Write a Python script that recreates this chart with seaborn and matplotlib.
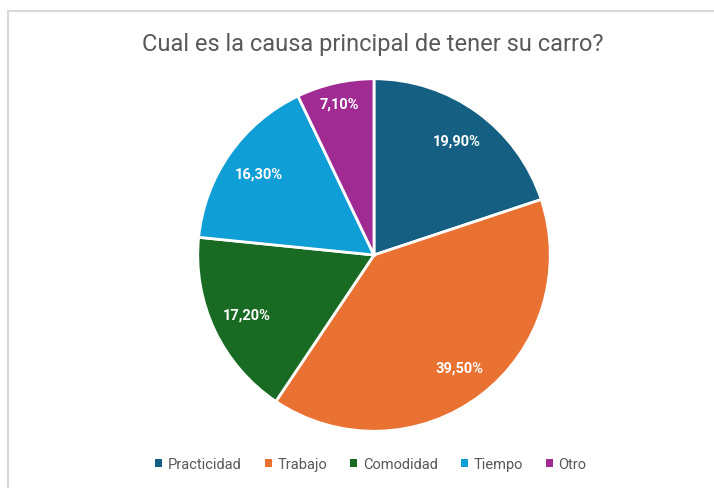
import matplotlib
matplotlib.use("Agg")
import matplotlib.pyplot as plt
import seaborn as sns
from matplotlib.lines import Line2D
from matplotlib.patches import Patch

# Datos de la encuesta
categorias = ["Practicidad", "Trabajo", "Comodidad", "Tiempo", "Otro"]
porcentajes = [19.9, 39.5, 17.2, 16.3, 7.1]
colores = ["#156082", "#E97132", "#196B24", "#0F9ED5", "#A02B93"]

sns.set_theme(style="white")
plt.rcParams["font.family"] = ["Roboto", "DejaVu Sans"]

fig = plt.figure(figsize=(7.14, 4.89), dpi=100)
ax = fig.add_axes([196 / 714, 55 / 489, 356 / 714, 356 / 489])

wedges, textos, pcts = ax.pie(
    porcentajes,
    colors=colores,
    startangle=90,
    counterclock=False,
    autopct=lambda p: f"{p:.2f}%".replace(".", ","),
    pctdistance=0.8,
    wedgeprops=dict(edgecolor="white", linewidth=2),
    textprops=dict(color="white", fontsize=10.5, fontweight="bold"),
)
# la etiqueta de "Otro" va un poco mas afuera, como en Excel
x, y = pcts[-1].get_position()
pcts[-1].set_position((x * 1.1, y * 1.1))

ax.set_xlim(-1.01, 1.01)
ax.set_ylim(-1.01, 1.01)
ax.set_aspect("equal")
ax.axis("off")

fig.text(373 / 714, 1 - 44 / 489, "Cual es la causa principal de tener su carro?",
         ha="center", va="center", fontsize=17, color="#595959")

handles = [Patch(facecolor=c, edgecolor="none", label=l) for c, l in zip(colores, categorias)]
fig.legend(handles=handles, loc="center", bbox_to_anchor=(371 / 714, 1 - 465 / 489),
           ncol=5, frameon=False, fontsize=10.5, labelcolor="#595959",
           handlelength=0.45, handleheight=0.45, handletextpad=0.4, columnspacing=1.6)

# marco del grafico
fig.add_artist(Line2D([7.5 / 714, 1], [1 - 11.5 / 489, 1 - 11.5 / 489], color="#d9d9d9", lw=1.5))
fig.add_artist(Line2D([7.5 / 714, 7.5 / 714], [0, 1 - 11.5 / 489], color="#d9d9d9", lw=1.5))

fig.savefig("out.png", dpi=100, facecolor="white")
